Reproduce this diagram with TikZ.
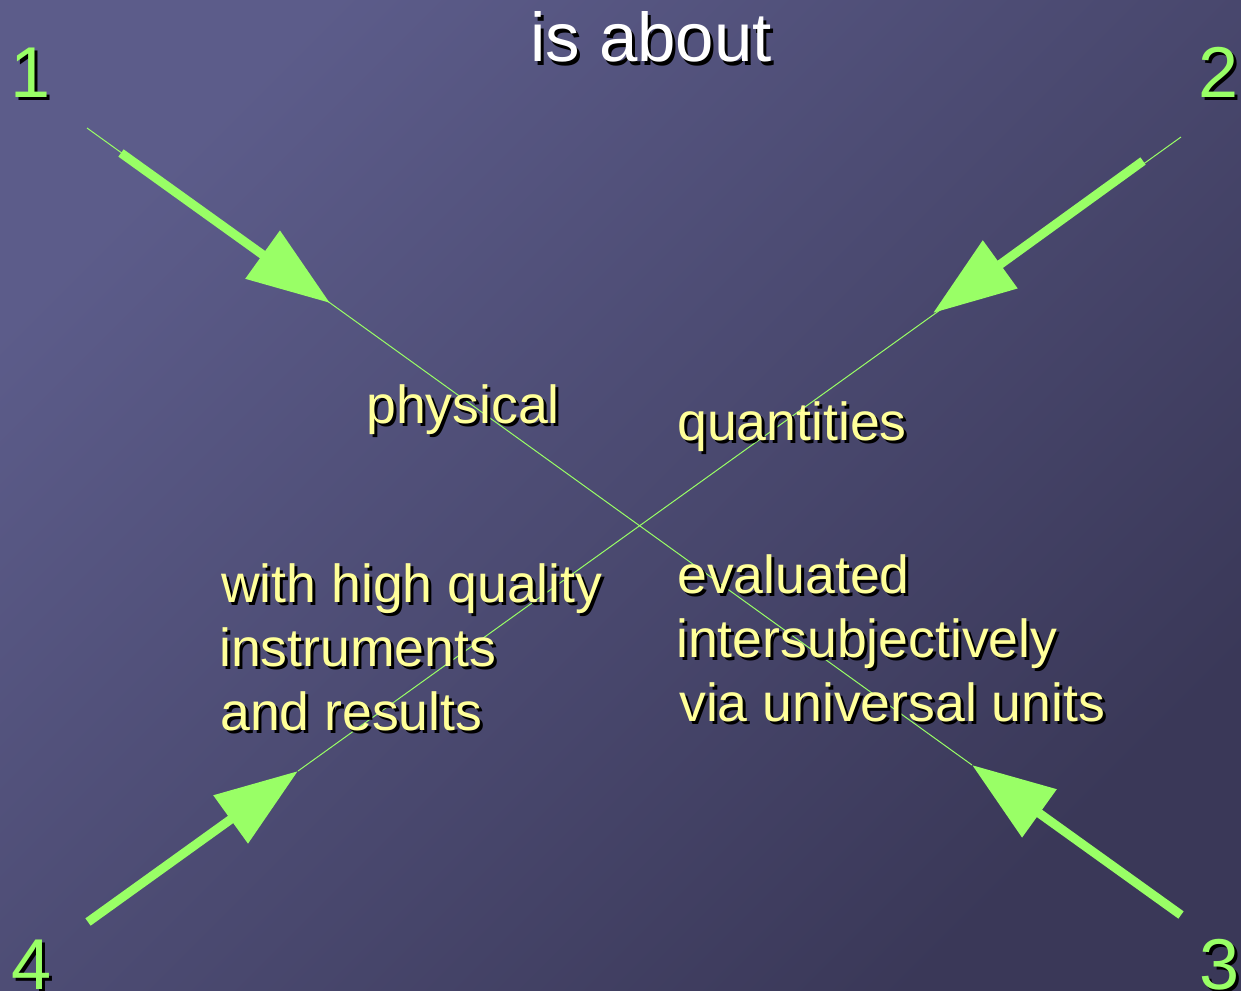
\documentclass[tikz,border=0pt]{standalone}
\usepackage{fontspec}
\setmainfont{Liberation Sans}
\usetikzlibrary{arrows.meta}
\definecolor{bgA}{RGB}{92,92,138}
\definecolor{bgB}{RGB}{58,56,88}
\definecolor{lgreen}{RGB}{153,255,102}
\definecolor{lyellow}{RGB}{255,255,153}
\tikzset{
  lbl/.style={inner sep=0pt, anchor=base west},
  ytext/.style={lbl, text=lyellow, font=\fontsize{53.6}{64}\selectfont},
  gnum/.style={lbl, text=lgreen, font=\fontsize{72}{80}\selectfont},
  wtitle/.style={inner sep=0pt, anchor=base, text=white, font=\fontsize{69}{76}\selectfont},
  thinline/.style={draw=lgreen, line width=1pt},
  bigarrow/.style={draw=lgreen, line width=9pt, -{Triangle[length=83pt,width=57pt]}}
}
\newcommand\shtxt[5]{%
  \node[#4, text=black] (#1s) at (#2+3,#3+3) {#5};
  \node[#4] (#1) at (#2,#3) {#5};
}
\begin{document}
\begin{tikzpicture}[x=1pt,y=-1pt]
\useasboundingbox (0,0) rectangle (1241,990);
\shade[top color=bgA,bottom color=bgB,shading angle=45] (0,0) rectangle (1241,990);

% line end points
\coordinate (s1) at (87,128);
\coordinate (s2) at (1181,137);
\coordinate (a1) at (121,153);
\coordinate (p1) at (330,303);
\coordinate (a2) at (1143,161);
\coordinate (p2) at (933,313);
\coordinate (a3) at (1181,915);
\coordinate (p3) at (972,765);
\coordinate (a4) at (88,922);
\coordinate (p4) at (298,771);

\draw[thinline] (s1) -- (p3);
\draw[thinline] (s2) -- (p4);
\draw[bigarrow] (a1) -- (p1);
\draw[bigarrow] (a2) -- (p2);
\draw[bigarrow] (a3) -- (p3);
\draw[bigarrow] (a4) -- (p4);

% title
\shtxt{title}{651}{62}{wtitle}{is about}

% numbers
\shtxt{n1}{10}{97}{gnum}{1}
\shtxt{n2}{1198}{97}{gnum}{2}
\shtxt{n3}{1199}{989}{gnum}{3}
\shtxt{n4}{11}{989}{gnum}{4}

% yellow texts
\shtxt{phys}{366}{423}{ytext}{physical}
\shtxt{quant}{677}{440}{ytext}{quantities}
\shtxt{wl1}{221}{602}{ytext}{with high quality}
\shtxt{wl2}{219}{666}{ytext}{instruments}
\shtxt{wl3}{220}{730}{ytext}{and results}
\shtxt{el1}{677}{593}{ytext}{evaluated}
\shtxt{el2}{676}{657}{ytext}{intersubjectively}
\shtxt{el3}{679}{721}{ytext}{via universal units}
\end{tikzpicture}
\end{document}
